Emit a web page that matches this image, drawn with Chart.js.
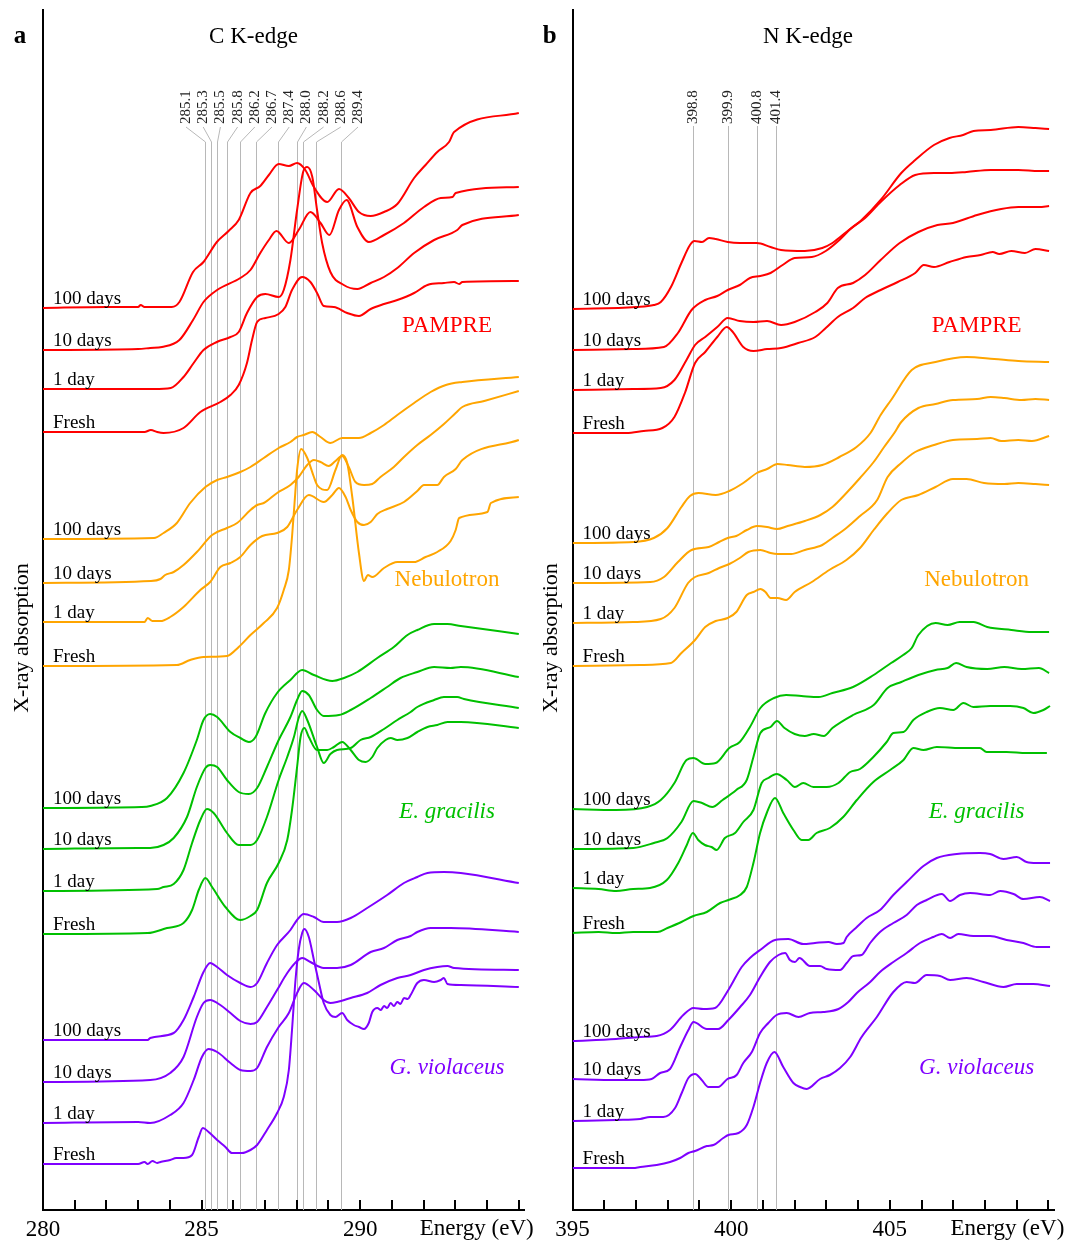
<!DOCTYPE html>
<html>
<head>
<meta charset="utf-8">
<script src="https://cdn.jsdelivr.net/npm/chart.js@4.4.1/dist/chart.umd.min.js"></script>
<style>
  html, body { margin: 0; padding: 0; background: #ffffff; }
  #wrap { position: relative; width: 1069px; height: 1240px; background: #ffffff; }
  canvas { position: absolute; top: 0; }
</style>
</head>
<body>
<div id="wrap">
  <canvas id="cEdge" width="535" height="1240" style="left:0"></canvas>
  <canvas id="nEdge" width="534" height="1240" style="left:535px"></canvas>
</div>
<script>
// ---- labels ----
const ageLabels = ['100 days', '10 days', '1 day', 'Fresh'];
const groupNames = ['PAMPRE', 'Nebulotron', 'E. gracilis', 'G. violaceus'];
const groupColors = ['#ff0000', '#ffa500', '#00c000', '#7f00ff'];
const groupItalic = [false, false, true, true];
const groupLabelLevels = [8.84, 6.30, 3.98, 1.42];

// ---- reference energies (eV) ----
const cPeaks = [285.1, 285.3, 285.5, 285.8, 286.2, 286.7, 287.4, 288.0, 288.2, 288.6, 289.4];
const nPeaks = [398.8, 399.9, 400.8, 401.4];

// ---- x tick values ----
const cTicks = [280, 285, 290];
const nTicks = [395, 400, 405];

// ---- C K-edge spectra [energy eV, stacked absorption] ----
const C_PAMPRE_100 = [[280,9.02],[282,9.03],[283.0,9.03],[283.08,9.05],[283.2,9.03],[283.6,9.03],[284.06,9.03],[284.3,9.08],[284.73,9.38],[285.06,9.48],[285.48,9.68],[285.85,9.79],[286.17,9.90],[286.54,10.17],[286.85,10.24],[287.12,10.35],[287.43,10.46],[287.75,10.44],[288.01,10.47],[288.27,10.40],[288.54,10.23],[288.96,10.08],[289.33,10.21],[289.64,10.12],[289.96,9.98],[290.33,9.94],[290.75,9.98],[291.17,10.06],[291.70,10.32],[292.06,10.45],[292.43,10.58],[292.80,10.68],[292.96,10.78],[295,10.97]];
const C_PAMPRE_10 = [[280,8.60],[283,8.61],[283.38,8.62],[283.75,8.63],[284.3,8.70],[284.73,8.90],[285.06,9.08],[285.49,9.20],[286.22,9.32],[286.54,9.40],[286.85,9.57],[287.12,9.70],[287.36,9.79],[287.75,9.67],[288.06,9.80],[288.43,9.98],[288.75,9.87],[289.03,9.75],[289.33,10.00],[289.57,10.10],[289.91,9.83],[290.27,9.68],[290.75,9.75],[291.38,9.87],[292.01,10.03],[292.54,10.12],[292.91,10.13],[293.01,10.17],[295,10.23]];
const C_PAMPRE_1 = [[280,8.21],[283.5,8.21],[284.03,8.22],[284.43,8.33],[284.75,8.47],[285.06,8.60],[285.48,8.68],[285.91,8.73],[286.17,8.78],[286.43,8.97],[286.75,9.13],[287.01,9.16],[287.43,9.13],[287.59,9.20],[287.80,9.50],[288.01,10.00],[288.20,10.38],[288.33,10.43],[288.49,10.33],[288.64,10.00],[288.80,9.67],[289.06,9.38],[289.48,9.25],[289.91,9.21],[290.33,9.27],[290.75,9.33],[291.17,9.42],[291.70,9.57],[292.33,9.70],[293.06,9.80],[293.22,9.85],[295,9.95]];
const C_PAMPRE_F = [[280,7.78],[283.2,7.78],[283.4,7.80],[283.6,7.78],[283.80,7.77],[284.43,7.82],[284.96,7.98],[285.59,8.08],[285.91,8.15],[286.17,8.25],[286.43,8.47],[286.59,8.70],[286.75,8.88],[287.01,8.92],[287.43,8.96],[287.64,9.03],[287.85,9.20],[288.17,9.33],[288.43,9.28],[288.64,9.17],[288.85,9.04],[289.17,9.03],[289.59,8.97],[289.96,8.94],[290.33,9.01],[290.75,9.06],[291.17,9.10],[291.70,9.17],[292.12,9.25],[292.64,9.27],[292.96,9.28],[293.12,9.26],[293.22,9.28],[295,9.29]];

const C_NEBU_100 = [[280,6.71],[283.5,6.72],[283.80,6.77],[284.22,6.87],[284.64,7.07],[285.12,7.23],[285.49,7.30],[285.80,7.33],[286.22,7.38],[286.54,7.43],[286.96,7.52],[287.43,7.62],[287.80,7.68],[288.01,7.73],[288.22,7.75],[288.49,7.78],[288.75,7.73],[289.06,7.67],[289.43,7.72],[289.96,7.72],[290.33,7.77],[290.75,7.85],[291.17,7.95],[291.70,8.07],[292.22,8.18],[292.70,8.25],[293.22,8.28],[295,8.33]];
const C_NEBU_10 = [[280,6.27],[283.4,6.29],[283.70,6.31],[283.85,6.35],[284.12,6.38],[284.43,6.45],[284.85,6.58],[285.33,6.75],[285.80,6.82],[286.12,6.87],[286.54,7.00],[286.75,7.05],[286.96,7.07],[287.38,7.17],[287.80,7.25],[288.06,7.33],[288.33,7.45],[288.54,7.50],[288.75,7.48],[289.01,7.44],[289.22,7.49],[289.43,7.54],[289.64,7.43],[289.85,7.28],[290.12,7.25],[290.38,7.26],[290.64,7.33],[291.06,7.43],[291.38,7.53],[291.80,7.65],[292.22,7.75],[292.64,7.86],[293.01,7.97],[293.22,8.03],[293.91,8.09],[295,8.19]];
const C_NEBU_1 = [[280,5.88],[283.2,5.88],[283.3,5.92],[283.45,5.89],[283.70,5.89],[284.01,5.93],[284.43,6.03],[284.96,6.20],[285.27,6.28],[285.59,6.43],[285.91,6.47],[286.22,6.53],[286.54,6.65],[286.91,6.74],[287.38,6.77],[287.70,6.83],[288.01,7.00],[288.38,7.15],[288.85,7.08],[289.12,7.15],[289.33,7.22],[289.54,7.13],[289.70,7.00],[289.91,6.88],[290.12,6.85],[290.33,6.88],[290.54,6.96],[290.85,7.01],[291.38,7.08],[291.80,7.19],[292.01,7.25],[292.43,7.25],[292.64,7.33],[293.01,7.41],[293.22,7.50],[295,7.70]];
const C_NEBU_F = [[280,5.44],[284.22,5.45],[284.64,5.50],[285.06,5.53],[285.80,5.54],[286.17,5.63],[286.54,5.75],[286.96,5.87],[287.38,6.02],[287.59,6.20],[287.75,6.40],[287.85,6.73],[287.93,7.07],[288.01,7.40],[288.14,7.61],[288.33,7.52],[288.54,7.33],[288.64,7.25],[288.96,7.20],[289.22,7.40],[289.43,7.55],[289.59,7.47],[289.75,7.13],[289.96,6.57],[290.12,6.29],[290.24,6.35],[290.38,6.33],[290.75,6.42],[291.17,6.48],[291.70,6.48],[292.06,6.53],[292.43,6.58],[292.85,6.69],[293.01,6.80],[293.12,6.92],[294.01,6.98],[294.12,7.07],[295,7.13]];

const C_EUG_100 = [[280,4.02],[283.1,4.03],[283.38,4.04],[283.91,4.12],[284.43,4.37],[284.85,4.70],[285.06,4.90],[285.27,4.96],[285.49,4.93],[285.91,4.78],[286.22,4.72],[286.49,4.68],[286.70,4.73],[287.01,4.97],[287.38,5.17],[287.80,5.30],[288.17,5.40],[288.54,5.35],[289.12,5.29],[289.49,5.32],[289.91,5.38],[290.54,5.52],[291.06,5.63],[291.49,5.75],[291.80,5.80],[292.33,5.86],[292.75,5.86],[293.17,5.84],[295,5.76]];
const C_EUG_10 = [[280,3.61],[283.0,3.62],[283.38,3.62],[283.80,3.65],[284.12,3.72],[284.54,3.93],[284.85,4.23],[285.12,4.42],[285.27,4.45],[285.49,4.43],[285.80,4.30],[286.17,4.18],[286.49,4.16],[286.75,4.22],[287.06,4.43],[287.43,4.70],[287.80,4.93],[288.01,5.10],[288.17,5.19],[288.38,5.15],[288.64,5.00],[288.85,4.94],[289.33,4.95],[289.70,5.00],[290.33,5.12],[290.85,5.23],[291.27,5.32],[291.80,5.38],[292.33,5.43],[292.85,5.42],[293.17,5.43],[295,5.33]];
const C_EUG_1 = [[280,3.19],[283.6,3.21],[283.80,3.23],[284.12,3.26],[284.43,3.40],[284.70,3.67],[284.96,3.90],[285.17,4.01],[285.38,3.97],[285.80,3.77],[286.17,3.65],[286.54,3.65],[286.75,3.70],[287.06,3.93],[287.43,4.30],[287.70,4.53],[287.91,4.73],[288.06,4.92],[288.17,4.99],[288.33,4.90],[288.64,4.63],[288.85,4.47],[289.06,4.56],[289.27,4.60],[289.70,4.62],[290.01,4.70],[290.33,4.73],[290.75,4.81],[291.17,4.90],[291.59,4.98],[291.80,5.03],[292.33,5.10],[292.64,5.13],[293.06,5.13],[293.27,5.11],[295,5.02]];
const C_EUG_F = [[280,2.76],[283.3,2.77],[283.91,2.82],[284.43,2.87],[284.70,3.00],[284.91,3.20],[285.12,3.32],[285.33,3.23],[285.75,3.03],[286.22,2.90],[286.54,2.94],[286.75,3.00],[287.06,3.27],[287.43,3.47],[287.70,3.70],[287.85,4.00],[288.01,4.43],[288.12,4.73],[288.24,4.82],[288.38,4.73],[288.64,4.60],[288.96,4.60],[289.17,4.63],[289.43,4.68],[289.70,4.60],[289.96,4.50],[290.17,4.48],[290.38,4.53],[290.54,4.62],[290.80,4.70],[290.96,4.72],[291.17,4.70],[291.49,4.72],[291.80,4.78],[292.12,4.83],[292.43,4.85],[292.75,4.88],[293.17,4.88],[295,4.82]];

const C_GV_100 = [[280,1.70],[283.3,1.70],[283.38,1.72],[284.12,1.77],[284.43,1.90],[284.75,2.13],[285.06,2.38],[285.27,2.47],[285.49,2.43],[285.80,2.35],[286.22,2.27],[286.54,2.23],[286.75,2.27],[287.06,2.47],[287.38,2.65],[287.80,2.80],[288.01,2.90],[288.22,2.96],[288.54,2.93],[288.85,2.88],[289.27,2.88],[289.70,2.92],[290.22,3.02],[290.85,3.15],[291.38,3.27],[291.80,3.33],[292.12,3.37],[292.64,3.38],[293.17,3.37],[295,3.27]];
const C_GV_10 = [[280,1.28],[283.38,1.30],[284.01,1.37],[284.43,1.53],[284.85,1.93],[285.06,2.07],[285.27,2.10],[285.59,2.05],[285.91,1.97],[286.22,1.89],[286.54,1.86],[286.75,1.88],[287.06,2.03],[287.38,2.20],[287.70,2.37],[288.01,2.49],[288.17,2.52],[288.43,2.48],[288.85,2.42],[289.27,2.42],[289.70,2.45],[290.33,2.58],[290.75,2.62],[291.17,2.70],[291.59,2.74],[291.80,2.78],[292.22,2.82],[292.85,2.82],[295,2.78]];
const C_GV_1 = [[280,0.87],[283.0,0.88],[283.38,0.87],[284.01,0.95],[284.43,1.07],[284.75,1.30],[285.01,1.53],[285.22,1.61],[285.49,1.58],[285.91,1.47],[286.22,1.40],[286.54,1.39],[286.75,1.42],[287.06,1.63],[287.43,1.83],[287.75,1.97],[288.01,2.17],[288.22,2.27],[288.54,2.20],[288.85,2.10],[289.06,2.07],[289.27,2.08],[289.70,2.12],[290.22,2.17],[290.64,2.25],[291.17,2.32],[291.59,2.35],[292.01,2.40],[292.43,2.43],[292.75,2.44],[292.96,2.42],[295,2.40]];
const C_GV_F = [[280,0.46],[283.0,0.46],[283.2,0.48],[283.3,0.46],[283.45,0.49],[283.6,0.47],[283.70,0.48],[284.01,0.50],[284.2,0.52],[284.43,0.52],[284.70,0.55],[284.91,0.73],[285.04,0.82],[285.22,0.78],[285.49,0.70],[285.75,0.63],[285.96,0.57],[286.27,0.57],[286.54,0.60],[286.75,0.65],[287.06,0.80],[287.38,0.97],[287.59,1.13],[287.75,1.40],[287.85,1.80],[287.96,2.30],[288.06,2.60],[288.17,2.77],[288.24,2.81],[288.38,2.73],[288.54,2.50],[288.70,2.27],[288.85,2.07],[289.06,1.95],[289.22,1.93],[289.43,1.97],[289.59,1.90],[289.80,1.85],[289.96,1.83],[290.12,1.81],[290.27,1.87],[290.38,1.98],[290.54,2.02],[290.65,2.00],[290.75,2.04],[290.85,2.02],[290.96,2.07],[291.06,2.04],[291.17,2.08],[291.27,2.06],[291.38,2.12],[291.50,2.11],[291.59,2.15],[291.80,2.27],[292.01,2.30],[292.33,2.28],[292.54,2.30],[292.64,2.32],[292.75,2.26],[293.17,2.25],[295,2.23]];

// ---- N K-edge spectra [energy eV, stacked absorption] ----
const N_PAMPRE_100 = [[395,9.01],[397.0,9.03],[397.56,9.05],[397.78,9.08],[398.10,9.23],[398.43,9.47],[398.70,9.65],[398.84,9.69],[399.08,9.68],[399.30,9.72],[399.51,9.71],[399.89,9.68],[400.27,9.67],[400.81,9.67],[401.24,9.63],[401.57,9.60],[402.32,9.59],[402.87,9.62],[403.19,9.67],[403.63,9.78],[404.11,9.90],[404.71,10.10],[405.36,10.37],[405.80,10.50],[406.39,10.65],[406.88,10.72],[407.31,10.75],[407.64,10.79],[408.18,10.80],[409.05,10.83],[409.59,10.82],[410.02,10.81]];
const N_PAMPRE_10 = [[395,8.60],[396.91,8.61],[397.88,8.63],[398.32,8.77],[398.75,9.00],[399.18,9.10],[399.56,9.14],[399.89,9.20],[400.27,9.25],[400.59,9.32],[400.92,9.34],[401.24,9.37],[401.62,9.45],[402.00,9.52],[402.54,9.53],[402.98,9.59],[403.41,9.70],[403.79,9.82],[404.22,9.92],[404.71,10.08],[405.31,10.25],[405.80,10.35],[406.39,10.37],[406.88,10.37],[407.42,10.38],[408.18,10.40],[409.05,10.40],[409.70,10.39],[410.02,10.39]];
const N_PAMPRE_1 = [[395,8.20],[396.91,8.21],[397.78,8.22],[398.21,8.30],[398.59,8.50],[398.86,8.65],[399.18,8.73],[399.56,8.83],[399.89,8.92],[400.27,8.89],[400.70,8.88],[401.13,8.89],[401.57,8.85],[402.00,8.88],[402.65,8.98],[403.03,9.07],[403.36,9.22],[403.84,9.27],[404.22,9.35],[404.71,9.50],[405.31,9.67],[405.90,9.78],[406.50,9.85],[406.99,9.87],[407.75,9.95],[408.51,10.01],[409.05,10.03],[409.70,10.03],[410.02,10.04]];
const N_PAMPRE_F = [[395,7.77],[396.69,7.77],[397.24,7.79],[397.83,7.82],[398.21,7.93],[398.54,8.17],[398.86,8.47],[399.18,8.58],[399.56,8.73],[399.86,8.83],[400.05,8.78],[400.38,8.63],[400.70,8.59],[401.13,8.61],[401.57,8.62],[402.11,8.67],[402.65,8.73],[402.98,8.82],[403.36,8.93],[403.84,9.02],[404.22,9.12],[404.71,9.20],[405.25,9.28],[405.80,9.37],[406.07,9.45],[406.39,9.43],[406.88,9.48],[407.42,9.53],[407.86,9.55],[408.24,9.58],[408.45,9.56],[408.83,9.59],[409.26,9.57],[409.59,9.61],[410.02,9.59]];

const N_NEBU_100 = [[395,6.67],[396.91,6.68],[397.56,6.72],[397.99,6.82],[398.43,7.03],[398.70,7.14],[398.97,7.17],[399.51,7.15],[399.94,7.19],[400.38,7.27],[400.81,7.37],[401.13,7.41],[401.46,7.46],[401.78,7.45],[402.32,7.43],[402.87,7.45],[403.41,7.53],[403.95,7.63],[404.39,7.77],[404.71,7.95],[405.04,8.10],[405.69,8.40],[406.44,8.48],[407.42,8.53],[408.29,8.51],[409.05,8.49],[410.02,8.48]];
const N_NEBU_10 = [[395,6.27],[397.45,6.28],[397.88,6.33],[398.32,6.48],[398.75,6.60],[399.29,6.63],[399.62,6.68],[399.89,6.72],[400.16,6.74],[400.49,6.80],[400.81,6.84],[401.13,6.83],[401.44,6.81],[401.78,6.84],[402.32,6.89],[402.81,6.95],[403.19,7.03],[403.63,7.17],[404.06,7.32],[404.49,7.48],[404.82,7.63],[405.14,7.77],[405.36,7.88],[405.90,8.02],[406.44,8.06],[406.99,8.10],[407.75,8.11],[408.18,8.13],[408.61,8.12],[409.15,8.10],[409.59,8.11],[410.02,8.10]];
const N_NEBU_1 = [[395,5.87],[396.91,5.88],[397.78,5.91],[398.21,6.02],[398.64,6.27],[398.86,6.33],[399.29,6.37],[399.62,6.42],[399.94,6.46],[400.27,6.52],[400.54,6.58],[400.92,6.60],[401.24,6.57],[401.46,6.56],[401.89,6.56],[402.32,6.60],[402.87,6.65],[403.19,6.72],[403.63,6.82],[404.06,6.94],[404.60,7.10],[404.93,7.33],[405.36,7.47],[405.80,7.58],[406.39,7.65],[406.99,7.70],[407.75,7.71],[408.18,7.72],[408.51,7.69],[409.05,7.70],[409.48,7.69],[410.02,7.74]];
const N_NEBU_F = [[395,5.44],[397.13,5.45],[398.10,5.47],[398.43,5.57],[398.86,5.70],[399.18,5.83],[399.51,5.89],[399.89,5.92],[400.16,5.98],[400.49,6.15],[400.70,6.18],[400.92,6.21],[401.08,6.18],[401.24,6.12],[401.46,6.12],[401.73,6.10],[402.00,6.18],[402.54,6.28],[403.09,6.40],[403.63,6.50],[404.06,6.62],[404.49,6.80],[404.93,6.97],[405.36,7.10],[405.90,7.15],[406.44,7.23],[406.99,7.31],[407.42,7.31],[407.97,7.27],[408.61,7.26],[409.05,7.27],[409.59,7.26],[410.02,7.25]];

const N_EUG_100 = [[395,4.01],[396.37,4.00],[397.35,4.03],[397.78,4.10],[398.21,4.27],[398.59,4.50],[398.81,4.52],[399.18,4.46],[399.51,4.47],[399.94,4.62],[400.27,4.68],[400.59,4.83],[400.92,5.02],[401.35,5.12],[401.73,5.15],[402.21,5.14],[402.76,5.13],[403.19,5.17],[403.84,5.23],[404.49,5.35],[405.04,5.47],[405.42,5.55],[405.69,5.62],[405.90,5.75],[406.44,5.87],[406.82,5.85],[407.20,5.88],[407.64,5.88],[408.07,5.83],[408.83,5.80],[409.48,5.78],[410.02,5.78]];
const N_EUG_10 = [[395,3.61],[396.91,3.62],[397.56,3.67],[397.99,3.72],[398.43,3.88],[398.81,4.09],[399.08,4.07],[399.40,4.03],[399.73,4.10],[400.16,4.20],[400.49,4.30],[400.70,4.53],[400.92,4.77],[401.24,4.83],[401.44,4.89],[401.68,4.82],[402.00,4.76],[402.32,4.74],[402.60,4.76],[402.92,4.74],[403.19,4.82],[403.84,4.95],[404.49,5.05],[404.93,5.22],[405.36,5.28],[405.90,5.35],[406.44,5.40],[406.82,5.42],[407.09,5.47],[407.42,5.43],[408.07,5.41],[408.61,5.43],[409.15,5.41],[409.70,5.42],[410.02,5.37]];
const N_EUG_1 = [[395,3.22],[395.82,3.21],[396.37,3.19],[396.91,3.21],[397.44,3.22],[397.97,3.30],[398.33,3.47],[398.60,3.65],[398.79,3.77],[398.96,3.70],[399.17,3.65],[399.38,3.63],[399.54,3.60],[399.80,3.72],[400.12,3.77],[400.38,3.88],[400.70,4.00],[400.96,4.27],[401.17,4.32],[401.43,4.36],[401.75,4.30],[402.01,4.23],[402.27,4.27],[402.59,4.23],[403.01,4.23],[403.38,4.27],[403.75,4.38],[404.06,4.41],[404.48,4.53],[404.90,4.68],[405.11,4.77],[405.43,4.78],[405.74,4.90],[406.16,4.98],[406.58,5.02],[407.00,5.00],[407.32,5.07],[407.63,5.03],[408.16,5.04],[408.79,5.04],[409.21,5.02],[409.52,4.97],[409.84,5.00],[410.05,5.04]];
const N_EUG_F = [[395,2.77],[395.82,2.78],[396.37,2.77],[396.91,2.78],[397.67,2.78],[397.99,2.82],[398.43,2.88],[398.81,2.94],[399.23,2.98],[399.65,3.07],[399.91,3.10],[400.28,3.15],[400.49,3.23],[400.70,3.47],[400.91,3.77],[401.12,3.97],[401.38,4.12],[401.64,3.97],[401.96,3.80],[402.22,3.70],[402.43,3.70],[402.69,3.77],[403.11,3.82],[403.53,3.93],[403.96,4.10],[404.48,4.28],[405.01,4.40],[405.43,4.50],[405.74,4.62],[406.06,4.60],[406.48,4.63],[407.21,4.62],[407.84,4.62],[408.05,4.58],[408.68,4.58],[409.31,4.57],[409.95,4.57]];

const N_GV_100 = [[395,1.69],[396.37,1.71],[397.13,1.73],[397.65,1.74],[398.07,1.80],[398.49,1.95],[398.81,2.02],[399.12,2.01],[399.49,2.02],[399.91,2.20],[400.33,2.43],[400.59,2.52],[400.91,2.60],[401.38,2.70],[401.80,2.71],[402.27,2.66],[402.64,2.67],[403.06,2.68],[403.33,2.66],[403.54,2.67],[403.64,2.73],[403.96,2.83],[404.27,2.92],[404.69,3.00],[405.11,3.15],[405.53,3.28],[406.06,3.44],[406.48,3.52],[407.11,3.56],[407.84,3.57],[408.16,3.56],[408.58,3.51],[409.00,3.53],[409.31,3.48],[409.63,3.47],[410.05,3.47]];
const N_GV_10 = [[395,1.31],[396.37,1.30],[397.13,1.30],[397.49,1.31],[397.76,1.37],[398.07,1.41],[398.39,1.63],[398.65,1.80],[398.81,1.88],[399.23,1.81],[399.59,1.81],[399.91,1.90],[400.28,2.03],[400.59,2.15],[400.91,2.33],[401.22,2.48],[401.49,2.55],[401.70,2.57],[401.85,2.50],[402.01,2.48],[402.15,2.52],[402.48,2.44],[402.80,2.44],[403.01,2.41],[403.43,2.40],[403.64,2.47],[403.85,2.54],[404.11,2.55],[404.38,2.67],[404.69,2.78],[405.11,2.87],[405.53,2.95],[405.85,3.05],[406.16,3.10],[406.64,3.16],[406.90,3.09],[407.21,3.15],[407.53,3.17],[408.16,3.15],[408.48,3.19],[408.90,3.16],[409.21,3.11],[409.73,3.13],[410.05,3.09]];
const N_GV_1 = [[395,0.89],[396.37,0.90],[397.13,0.91],[397.44,0.93],[397.86,0.93],[398.23,1.02],[398.44,1.17],[398.65,1.32],[398.86,1.36],[399.07,1.30],[399.28,1.23],[399.59,1.23],[399.88,1.31],[400.17,1.35],[400.38,1.47],[400.65,1.58],[400.91,1.77],[401.17,1.87],[401.43,1.95],[401.75,1.97],[402.12,1.93],[402.48,1.97],[402.90,1.98],[403.38,2.01],[403.69,2.08],[403.96,2.17],[404.38,2.28],[404.69,2.38],[405.11,2.48],[405.53,2.57],[405.95,2.67],[406.37,2.73],[406.64,2.76],[406.90,2.72],[407.16,2.76],[407.63,2.74],[408.16,2.74],[408.68,2.70],[409.21,2.67],[409.63,2.63],[410.05,2.63]];
const N_GV_F = [[395,0.42],[396.2,0.42],[396.91,0.42],[397.13,0.43],[397.65,0.45],[398.07,0.48],[398.39,0.52],[398.65,0.57],[398.86,0.59],[399.23,0.64],[399.44,0.65],[399.75,0.72],[399.91,0.75],[400.23,0.77],[400.49,0.85],[400.70,1.03],[400.91,1.27],[401.12,1.47],[401.36,1.58],[401.64,1.43],[401.96,1.27],[402.17,1.23],[402.38,1.21],[402.80,1.31],[403.11,1.35],[403.43,1.42],[403.75,1.53],[404.11,1.73],[404.59,1.93],[405.11,2.18],[405.53,2.28],[405.79,2.27],[406.16,2.35],[406.58,2.34],[406.90,2.30],[407.42,2.32],[407.95,2.28],[408.58,2.23],[409.00,2.26],[409.52,2.26],[410.05,2.24]];

// ---- panel layout ----
const SERIF = "'Liberation Serif', 'Times New Roman', serif";

const cPanel = {
  canvas: 'cEdge', letter: 'a', title: 'C K-edge', titleX: 253.5,
  xMin: 280, xMax: 295.17, ticks: cTicks, peaks: cPeaks, fan: true,
  padding: { left: 43, right: 10.8, top: 10, bottom: 0 },
  series: [
    [C_PAMPRE_100, C_PAMPRE_10, C_PAMPRE_1, C_PAMPRE_F],
    [C_NEBU_100, C_NEBU_10, C_NEBU_1, C_NEBU_F],
    [C_EUG_100, C_EUG_10, C_EUG_1, C_EUG_F],
    [C_GV_100, C_GV_10, C_GV_1, C_GV_F]
  ]
};
const nPanel = {
  canvas: 'nEdge', letter: 'b', title: 'N K-edge', titleX: 808 - 535,
  xMin: 395, xMax: 410.2, ticks: nTicks, peaks: nPeaks, fan: false,
  padding: { left: 37.6, right: 14.2, top: 10, bottom: 0 },
  series: [
    [N_PAMPRE_100, N_PAMPRE_10, N_PAMPRE_1, N_PAMPRE_F],
    [N_NEBU_100, N_NEBU_10, N_NEBU_1, N_NEBU_F],
    [N_EUG_100, N_EUG_10, N_EUG_1, N_EUG_F],
    [N_GV_100, N_GV_10, N_GV_1, N_GV_F]
  ]
};

function makeDecor(panel) {
  return {
    id: 'decor_' + panel.canvas,
    beforeDatasetsDraw(chart) {
      const { ctx, chartArea, scales: { x } } = chart;
      ctx.save();
      ctx.strokeStyle = '#b8b8b8';
      ctx.lineWidth = 1;
      panel.peaks.forEach((e, i) => {
        const px = Math.round(x.getPixelForValue(e)) + 0.5;
        ctx.beginPath();
        if (panel.fan) {
          const lx = chartArea.left + 143 + 17.2 * i;
          ctx.moveTo(lx, 127);
          ctx.lineTo(px, 142);
        } else {
          ctx.moveTo(px, 126);
        }
        ctx.lineTo(px, chartArea.bottom);
        ctx.stroke();
      });
      ctx.restore();
    },
    afterDatasetsDraw(chart) {
      const { ctx, chartArea, scales: { x, y } } = chart;
      ctx.save();
      // energy labels of the reference lines
      ctx.fillStyle = '#222';
      ctx.font = '15px ' + SERIF;
      ctx.textAlign = 'left';
      ctx.textBaseline = 'middle';
      panel.peaks.forEach((e, i) => {
        const lx = panel.fan ? chartArea.left + 143 + 17.2 * i : Math.round(x.getPixelForValue(e)) + 0.5;
        ctx.save();
        ctx.translate(lx, 124);
        ctx.rotate(-Math.PI / 2);
        ctx.fillText(e.toFixed(1), 0, 0);
        ctx.restore();
      });
      // ageing labels above each spectrum
      ctx.fillStyle = '#000';
      ctx.font = '19px ' + SERIF;
      ctx.textBaseline = 'alphabetic';
      panel.series.forEach(group => group.forEach((s, k) => {
        ctx.fillText(ageLabels[k], chartArea.left + 10, y.getPixelForValue(s[0][1]) - 4);
      }));
      // sample names
      ctx.textAlign = 'center';
      ctx.textBaseline = 'middle';
      groupNames.forEach((name, g) => {
        ctx.fillStyle = groupColors[g];
        ctx.font = (groupItalic[g] ? 'italic ' : '') + '23px ' + SERIF;
        ctx.fillText(name, chartArea.left + 404, y.getPixelForValue(groupLabelLevels[g]));
      });
      ctx.restore();
    },
    afterDraw(chart) {
      const { ctx, chartArea, scales: { x } } = chart;
      ctx.save();
      // inward tick marks every 1 eV
      ctx.strokeStyle = '#000';
      ctx.lineWidth = 2;
      for (let v = panel.xMin; v <= panel.xMax + 1e-9; v += 1) {
        const px = Math.round(x.getPixelForValue(v));
        ctx.beginPath();
        ctx.moveTo(px, chartArea.bottom);
        ctx.lineTo(px, chartArea.bottom - 10);
        ctx.stroke();
      }
      ctx.fillStyle = '#000';
      // axis caption at the right end
      ctx.font = '23px ' + SERIF;
      ctx.textAlign = 'right';
      ctx.textBaseline = 'middle';
      ctx.fillText('Energy (eV)', chartArea.right + 9.5, 1229);
      // y axis title
      ctx.save();
      ctx.translate(chartArea.left - 21, 638);
      ctx.rotate(-Math.PI / 2);
      ctx.textAlign = 'center';
      ctx.font = '22px ' + SERIF;
      ctx.fillText('X-ray absorption', 0, 0);
      ctx.restore();
      // panel title and letter
      ctx.textAlign = 'center';
      ctx.font = '23px ' + SERIF;
      ctx.fillText(panel.title, panel.titleX, 37);
      ctx.font = 'bold 25px ' + SERIF;
      ctx.fillText(panel.letter, chartArea.left - 23, 37);
      ctx.restore();
    }
  };
}

function buildChart(panel) {
  const datasets = [];
  panel.series.forEach((group, g) => group.forEach((s, k) => {
    datasets.push({
      label: groupNames[g] + ' ' + ageLabels[k],
      data: s.map(p => ({ x: p[0], y: p[1] })),
      borderColor: groupColors[g],
      borderWidth: 2,
      pointRadius: 0,
      fill: false,
      cubicInterpolationMode: 'monotone'
    });
  }));
  return new Chart(document.getElementById(panel.canvas), {
    type: 'line',
    data: { datasets },
    options: {
      responsive: false,
      animation: false,
      devicePixelRatio: 1,
      layout: { padding: panel.padding },
      plugins: { legend: { display: false }, tooltip: { enabled: false } },
      scales: {
        x: {
          type: 'linear', min: panel.xMin, max: panel.xMax,
          grid: { display: false, drawTicks: false },
          border: { display: true, color: '#000', width: 2 },
          afterBuildTicks: s => { s.ticks = panel.ticks.map(v => ({ value: v })); },
          ticks: {
            autoSkip: false, maxRotation: 0, color: '#000', padding: 6,
            font: { family: SERIF, size: 23 }
          },
          afterFit: s => { s.height = 30; }
        },
        y: {
          min: 0, max: 12,
          grid: { display: false, drawTicks: false },
          border: { display: true, color: '#000', width: 2 },
          ticks: { display: false },
          afterFit: s => { s.width = 0; }
        }
      }
    },
    plugins: [makeDecor(panel)]
  });
}

buildChart(cPanel);
buildChart(nPanel);
</script>
</body>
</html>
